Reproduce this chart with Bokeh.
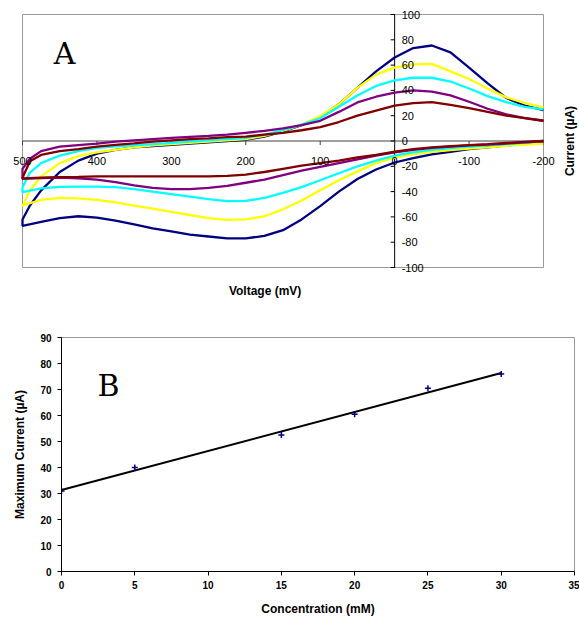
import numpy as np
from bokeh.plotting import figure
from bokeh.models import Range1d, Label, LabelSet, FixedTicker, ColumnDataSource
from bokeh.embed import file_html
from bokeh.resources import INLINE
from bokeh.core.properties import value

# ---------------- Data: panel A (cyclic voltammograms) ----------------
lower_v = [-200, -175, -150, -125, -100, -75, -50, -25, 0, 25, 50, 75, 100, 125, 150, 175,
           200, 225, 250, 275, 300, 325, 350, 375, 400, 425, 450, 475, 500]
upper_v = [500, 490, 475, 450, 425, 400, 375, 350, 325, 300, 275, 250, 225, 200, 175, 150,
           125, 100, 75, 50, 25, 0, -25, -50, -75, -100, -125, -150, -175, -200]

navy_lower = [-1, -2.3, -3.5, -5, -6.5, -8.5, -10.5, -13.5, -17, -22.5, -30, -40, -51.5, -62,
              -70.5, -75, -77, -77, -75.5, -74, -71.5, -69, -66, -63, -60.5, -59.5, -61, -64, -67]
yellow_lower = [-2, -2.8, -3.8, -5, -6, -7.2, -8.5, -10.5, -13, -17.5, -24, -31, -39, -47, -54,
                -59.5, -62, -62.3, -61, -58.5, -56, -53.5, -51, -48.5, -46.5, -45.3, -45, -46.5, -51]
cyan_lower = [0, -1.2, -2.5, -3.5, -4.5, -5.7, -7, -9, -11.5, -15.5, -20, -25.5, -31, -36.5, -41,
              -45, -47.3, -47.5, -46, -44, -42, -40, -38, -36.5, -36, -36, -36.3, -37.5, -40.5]
purple_lower = [0, -1, -2, -2.8, -3.5, -4.5, -5.5, -7, -9, -11.5, -14.5, -17.5, -20.5, -23.5, -27,
                -30.5, -33, -35.5, -37, -38, -38, -37, -35, -32.5, -30.5, -29.5, -29, -29.3, -30]
maroon_lower = [0, -0.7, -1.5, -2.5, -3.2, -4, -5, -6.5, -8.5, -11, -13, -15.5, -17.5, -19.5, -22,
                -24.5, -26.5, -27.5, -28, -28, -28, -28, -28, -28, -28, -28.3, -28.5, -29, -29.5]

navy_upper = [-62, -51, -39, -24.5, -15.5, -10, -7, -5, -4, -3, -2, -1, 0, 1, 3.5, 7.5,
              12.5, 19, 29, 42, 55, 66, 73.5, 75.5, 70, 58, 45.5, 34, 28, 24.5]
yellow_upper = [-52, -39, -28, -17.5, -12, -9, -7, -5, -3.5, -2.5, -1.5, -0.5, 0.5, 1.5, 4, 8,
                13, 19.5, 29, 42, 52.5, 58, 60.5, 61, 55, 49, 41.5, 34.5, 30, 26.5]
cyan_upper = [-36.5, -25, -17.5, -11.5, -8, -5.5, -4.3, -3.5, -2.5, -1.5, -0.5, 0.5, 1.5, 2.5, 5,
              8.5, 13, 18, 27, 36, 43.5, 48, 50, 50, 47, 41.5, 35.5, 30.7, 27, 25]
purple_upper = [-22, -14, -8, -4.5, -3.2, -2, -0.5, 0.5, 1.5, 2.5, 3.3, 4, 5, 6.5, 8, 10,
                12.5, 16, 23, 30.5, 35, 38.3, 40, 39, 36, 31, 25.5, 21, 18, 16]
maroon_upper = [-29, -16, -11, -8, -6.5, -4.5, -3, -1.8, -0.5, 0.5, 1.5, 2, 3, 3.5, 5, 6.5,
                8.5, 11, 15, 20, 24, 28, 30, 30.7, 28.5, 26, 23, 20, 18, 16]

a_x_ticks = [500, 400, 300, 200, 100, 0, -100, -200]
a_y_ticks = [-100, -80, -60, -40, -20, 0, 20, 40, 60, 80, 100]

# ---------------- Data: panel B (max current vs concentration) ----------------
conc = [0, 5, 15, 20, 25, 30]
max_current = [31, 40, 52.5, 60.5, 70.5, 76]
b_x_ticks = [0, 5, 10, 15, 20, 25, 30, 35]
b_y_ticks = [0, 10, 20, 30, 40, 50, 60, 70, 80, 90]

FONT = "Liberation Sans"
LETTER_FONT = "DejaVu Serif"

# ---------------- Panel A (frame = whole canvas; axes drawn by hand) ----------------
WA, HA = 579, 300
box_l, box_r, box_t, box_b = 22, 543, 14, 267          # plot box in pixels
v_hi, v_lo = a_x_ticks[0], a_x_ticks[-1]
i_lo, i_hi = a_y_ticks[0], a_y_ticks[-1]
kx = (box_r - box_l) / (v_hi - v_lo)
ky = (box_b - box_t) / (i_hi - i_lo)
x_range = Range1d(v_hi + box_l / kx, v_lo - (WA - box_r) / kx)
y_range = Range1d(i_lo - (HA - box_b) / ky, i_hi + box_t / ky)

pA = figure(width=WA, height=HA, x_range=x_range, y_range=y_range,
            output_backend="svg", toolbar_location=None,
            min_border_left=0, min_border_right=0, min_border_top=0, min_border_bottom=0)
pA.xaxis.visible = False
pA.yaxis.visible = False
pA.xgrid.visible = False
pA.ygrid.visible = False
pA.outline_line_color = None

# plot-area box
pA.line([v_hi, v_lo, v_lo, v_hi, v_hi], [i_hi, i_hi, i_lo, i_lo, i_hi],
        line_color="#9a9a9a", line_width=1)
# axes through the origin
pA.segment(x0=[v_hi], y0=[0], x1=[v_lo], y1=[0], line_color="#404040", line_width=1)
pA.segment(x0=[0], y0=[i_lo], x1=[0], y1=[i_hi], line_color="#000000", line_width=1)
tick_len_y = 4 / ky
tick_len_x = 4 / kx
pA.segment(x0=a_x_ticks, y0=[0] * len(a_x_ticks), x1=a_x_ticks, y1=[-tick_len_y] * len(a_x_ticks),
           line_color="#404040", line_width=1)
pA.segment(x0=[0] * len(a_y_ticks), y0=a_y_ticks, x1=[tick_len_x] * len(a_y_ticks), y1=a_y_ticks,
           line_color="#000000", line_width=1)

curves = [
    ("#000080", navy_lower, navy_upper),
    ("#ffff00", yellow_lower, yellow_upper),
    ("#00ffff", cyan_lower, cyan_upper),
    ("#800080", purple_lower, purple_upper),
    ("#800000", maroon_lower, maroon_upper),
]
for color, lo, up in curves:
    pA.line(lower_v + upper_v, lo + up, line_color=color, line_width=2.3)

xs_src = ColumnDataSource(dict(x=a_x_ticks, y=[0] * len(a_x_ticks), t=[str(v) for v in a_x_ticks]))
pA.add_layout(LabelSet(x="x", y="y", text="t", source=xs_src, y_offset=-20, text_align="center",
                       text_baseline="middle", text_font=value(FONT), text_font_size="11px",
                       text_color="#000000"))
ys_src = ColumnDataSource(dict(x=[0] * len(a_y_ticks), y=a_y_ticks, t=[str(v) for v in a_y_ticks]))
pA.add_layout(LabelSet(x="x", y="y", text="t", source=ys_src, x_offset=7, text_align="left",
                       text_baseline="middle", text_font=value(FONT), text_font_size="11px",
                       text_color="#000000"))

pA.add_layout(Label(x=174, y=i_lo, y_offset=-23, text="Voltage (mV)", text_align="center",
                    text_baseline="middle", text_font=FONT, text_font_size="12px",
                    text_font_style="bold", text_color="#000000"))
pA.add_layout(Label(x=v_lo, y=0, x_offset=26, text="Current (\u00b5A)", angle=np.pi / 2,
                    text_align="center", text_baseline="middle", text_font=FONT,
                    text_font_size="12px", text_font_style="bold", text_color="#000000"))
pA.add_layout(Label(x=458, y=69, text="A", text_align="left", text_baseline="alphabetic",
                    text_font=LETTER_FONT, text_font_size="30px", text_color="#000000"))

# ---------------- Panel B ----------------
pB = figure(width=579, height=318, x_range=Range1d(0, 35), y_range=Range1d(0, 90),
            output_backend="svg", toolbar_location=None,
            min_border_left=61, min_border_right=5, min_border_top=37, min_border_bottom=47)
pB.xgrid.visible = False
pB.ygrid.visible = False
pB.outline_line_color = "#9a9a9a"
pB.xaxis.ticker = FixedTicker(ticks=b_x_ticks)
pB.yaxis.ticker = FixedTicker(ticks=b_y_ticks)
for ax in (pB.xaxis[0], pB.yaxis[0]):
    ax.axis_line_color = "#000000"
    ax.major_tick_line_color = "#000000"
    ax.major_tick_out = 4
    ax.major_tick_in = 0
    ax.minor_tick_line_color = None
    ax.major_label_text_font = FONT
    ax.major_label_text_font_size = "10px"
    ax.major_label_text_font_style = "bold"
    ax.major_label_text_color = "#000000"
    ax.axis_label_text_font = FONT
    ax.axis_label_text_font_size = "12px"
    ax.axis_label_text_font_style = "bold"
    ax.axis_label_text_color = "#000000"
pB.xaxis.axis_label = "Concentration (mM)"
pB.yaxis.axis_label = "Maximum Current (\u00b5A)"
pB.xaxis.major_label_standoff = 5
pB.yaxis.major_label_standoff = 6
pB.xaxis.axis_label_standoff = 10
pB.yaxis.axis_label_standoff = 10

slope, intercept = np.polyfit(conc, max_current, 1)
fit_x = [min(conc), max(conc)]
fit_y = [intercept + slope * v for v in fit_x]
pB.line(fit_x, fit_y, line_color="#000000", line_width=2)
pB.scatter(conc, max_current, marker="cross", size=6, line_color="#000080", line_width=1.5)

pB.add_layout(Label(x=2.46, y=71.5, text="B", text_align="left", text_baseline="alphabetic",
                    text_font=LETTER_FONT, text_font_size="30px", text_color="#000000"))

open("out.html", "w").write(file_html([pA, pB], INLINE))
